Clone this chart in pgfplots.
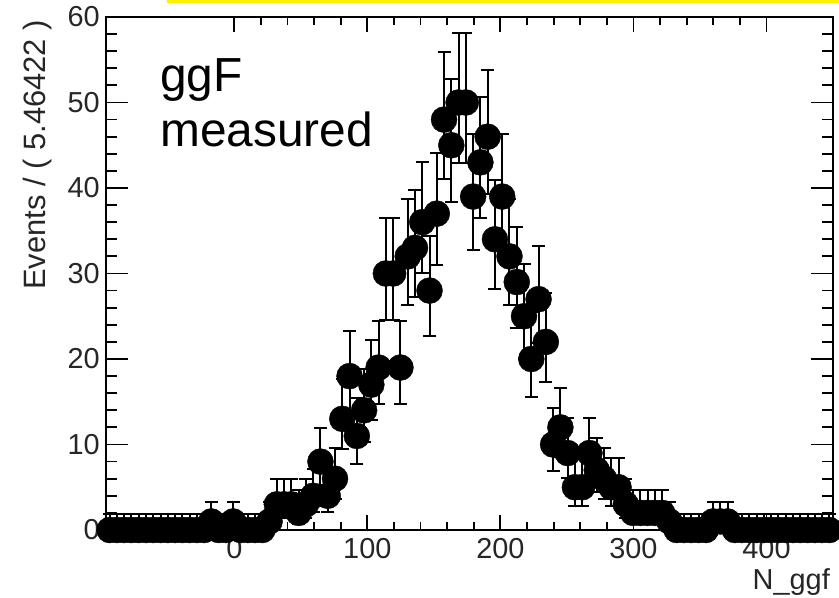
\documentclass[border=0pt]{standalone}
\usepackage{fontspec}
\setmainfont{Liberation Sans}
\usepackage{pgfplots}
\usepackage{pgfplotstable}
\pgfplotsset{compat=1.18}

% bin centre, events, Poisson errors (down, up)
\pgfplotstableread{
x y em ep
-93.69 0 0 1.84
-88.23 0 0 1.84
-82.76 0 0 1.84
-77.30 0 0 1.84
-71.83 0 0 1.84
-66.37 0 0 1.84
-60.90 0 0 1.84
-55.44 0 0 1.84
-49.98 0 0 1.84
-44.51 0 0 1.84
-39.05 0 0 1.84
-33.58 0 0 1.84
-28.12 0 0 1.84
-22.65 0 0 1.84
-17.19 1 0.83 2.30
-11.73 0 0 1.84
-6.26 0 0 1.84
-0.80 1 0.83 2.30
4.67 0 0 1.84
10.13 0 0 1.84
15.59 0 0 1.84
21.06 0 0 1.84
26.52 1 0.83 2.30
31.99 3 1.63 2.92
37.45 3 1.63 2.92
42.92 3 1.63 2.92
48.38 2 1.29 2.64
53.84 3 1.63 2.92
59.31 4 1.91 3.16
64.77 8 2.77 3.95
70.24 4 1.91 3.16
75.70 6 2.38 3.58
81.17 13 3.56 4.70
86.63 18 4.20 5.32
92.09 11 3.27 4.42
97.56 14 3.70 4.83
103.02 17 4.08 5.20
108.49 19 4.32 5.44
113.95 30 5.45 6.53
119.42 30 5.45 6.53
124.88 19 4.32 5.44
130.34 32 5.63 6.71
135.81 33 5.72 6.80
141.27 36 5.97 7.05
146.74 28 5.26 6.35
152.20 37 6.06 7.13
157.67 48 6.90 7.96
163.13 45 6.68 7.75
168.59 50 7.04 8.10
174.06 50 7.04 8.10
179.52 39 6.22 7.29
184.99 43 6.53 7.60
190.45 46 6.76 7.82
195.92 34 5.80 6.88
201.38 39 6.22 7.29
206.84 32 5.63 6.71
212.31 29 5.35 6.44
217.77 25 4.97 6.06
223.24 20 4.44 5.55
228.70 27 5.16 6.26
234.17 22 4.66 5.76
239.63 10 3.11 4.27
245.09 12 3.42 4.56
250.56 9 2.94 4.11
256.02 5 2.16 3.38
261.49 5 2.16 3.38
266.95 9 2.94 4.11
272.42 7 2.58 3.77
277.88 6 2.38 3.58
283.34 5 2.16 3.38
288.81 5 2.16 3.38
294.27 3 1.63 2.92
299.74 2 1.29 2.64
305.20 2 1.29 2.64
310.67 2 1.29 2.64
316.13 2 1.29 2.64
321.59 2 1.29 2.64
327.06 1 0.83 2.30
332.52 0 0 1.84
337.99 0 0 1.84
343.45 0 0 1.84
348.92 0 0 1.84
354.38 0 0 1.84
359.84 1 0.83 2.30
365.31 1 0.83 2.30
370.77 1 0.83 2.30
376.24 0 0 1.84
381.70 0 0 1.84
387.17 0 0 1.84
392.63 0 0 1.84
398.09 0 0 1.84
403.56 0 0 1.84
409.02 0 0 1.84
414.49 0 0 1.84
419.95 0 0 1.84
425.42 0 0 1.84
430.88 0 0 1.84
436.34 0 0 1.84
441.81 0 0 1.84
447.27 0 0 1.84
}\ggfdata

\pgfplotsset{
  frame/.style={
    at={(106bp,68bp)}, anchor=south west,
    scale only axis, width=727bp, height=513bp,
    xmin=-96.422, xmax=450, ymin=0, ymax=60,
    axis line style={line width=1.8bp},
    tick style={line width=1.8bp, black},
    tick align=inside,
  },
}

\begin{document}
\begin{tikzpicture}
% x ticks, frame and all tick labels
\begin{axis}[
  frame,
  xtick={0,100,...,400}, minor x tick num=4,
  ytick={0,10,...,60}, minor y tick num=0,
  ytick style={draw=none},
  xtick pos=both,
  major tick length=15bp, minor tick length=8bp,
  tick label style={font=\fontsize{29}{29}\selectfont, text=black!85},
  /pgf/number format/assume math mode=true,
  xticklabel style={inner sep=0pt, yshift=-8bp},
  yticklabel style={inner sep=0pt, xshift=-6bp},
]
\end{axis}
% y ticks and the data, drawn over the labels
\begin{axis}[
  frame,
  hide x axis,
  ytick={0,10,...,60}, minor y tick num=4,
  yticklabels={},
  ytick pos=both,
  major tick length=22bp, minor tick length=11bp,
  clip=false,
]
\addplot[only marks, mark=*, mark size=13bp, black,
  error bars/.cd, y dir=both, y explicit,
  error bar style={line width=2bp, black},
  error mark options={rotate=90, line width=2bp, mark size=6.5bp, black}]
  table[x=x, y=y, y error plus=ep, y error minus=em] {\ggfdata};
\end{axis}

\node[anchor=base west, inner sep=0pt, font=\fontsize{48}{48}\selectfont] at (160bp,506bp) {ggF};
\node[anchor=base west, inner sep=0pt, font=\fontsize{48}{48}\selectfont] at (160bp,451bp) {measured};
\node[rotate=90, anchor=base east, inner sep=0pt, text=black!85,
  font=\fontsize{31}{31}\selectfont] at (45bp,578bp) {Events / ( 5.46422 )};
\node[anchor=base east, inner sep=0pt, text=black!85,
  font=\fontsize{29}{29}\selectfont] at (830bp,9bp) {N\_ggf};
\fill[yellow] (167bp,595bp) rectangle (839bp,598bp);

\pgfresetboundingbox
\useasboundingbox (0bp,0bp) rectangle (839bp,598bp);
\end{tikzpicture}
\end{document}
